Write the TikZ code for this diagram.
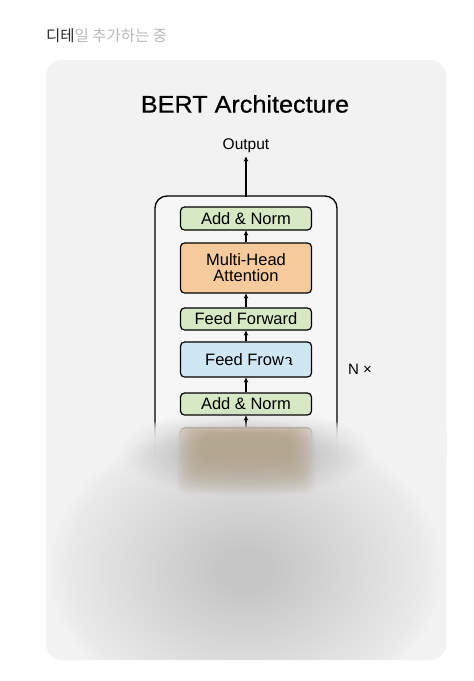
\documentclass[tikz,border=0pt]{standalone}
\usepackage{fontspec}
\setmainfont{Liberation Sans}
\newfontfamily\krfont{Noto Sans CJK KR}
\newfontfamily\titlefont[FakeBold=0.6,FakeStretch=1.05]{Liberation Sans}
\usetikzlibrary{arrows.meta}
\definecolor{cardbg}{RGB}{242,242,242}
\definecolor{hdrdark}{RGB}{40,40,40}
\definecolor{hdrlight}{RGB}{185,185,185}
\definecolor{gfill}{RGB}{214,232,196}
\definecolor{ofill}{RGB}{245,202,156}
\definecolor{bfill}{RGB}{207,230,243}
\definecolor{brownblur}{RGB}{180,160,130}
\definecolor{grayblur}{RGB}{150,150,150}
\tikzset{
  layer/.style={draw=black, line width=1.2pt, rounded corners=4pt, minimum width=131pt, align=center, inner sep=1pt, font=\fontsize{16.5}{17}\selectfont},
  arr/.style={-{Stealth[length=5pt,width=4.5pt]}, line width=1.2pt},
}
\begin{document}
\begin{tikzpicture}[x=1pt,y=-1pt]
\useasboundingbox (0,0) rectangle (474,681);
\fill[white] (0,0) rectangle (474,681);
\fill[cardbg, rounded corners=16pt] (46,60) rectangle (446,660);

\node[anchor=west, inner sep=0pt, font=\krfont\fontsize{15.5}{17}\selectfont] (hdr) at (46,36) {\textcolor{hdrdark}{디테}\textcolor{hdrlight}{일 추가하는 중}};

\node[font=\titlefont\fontsize{24}{26}\selectfont] (title) at (245,104) {BERT Architecture};
\node[font=\fontsize{15.5}{17}\selectfont] (out) at (246,146) {Output};

% outer block
\fill[cardbg!70!white, rounded corners=12pt] (155,460) -- (155,196) -- (337,196) -- (337,460) -- cycle;
\draw[line width=1.3pt, rounded corners=12pt] (155,460) -- (155,196) -- (337,196) -- (337,460);
\coordinate (boxtop) at (246,196.5);

\node[layer, fill=gfill, minimum height=23pt] (an1) at (246,218.5) {Add \& Norm};
\node[layer, fill=ofill, minimum height=50pt] (mha) at (246,268) {Multi-Head\\[-1pt]Attention};
\node[layer, fill=gfill, minimum height=22pt] (ff) at (246,319) {Feed Forward};
\node[layer, fill=bfill, minimum height=35pt] (ffb) at (246,359.5) {};
\node[font=\fontsize{16.5}{17}\selectfont, anchor=base west, inner sep=0pt] (fftxt) at (205,365.5) {Feed Frow};
\node[font=\fontsize{15}{17}\selectfont, anchor=base west, inner sep=0pt] (ffa) at (fftxt.base east) {a};
\fill[bfill] (ffa.south west) rectangle ([xshift=-3.6pt, yshift=-1.5pt]ffa.north east);
\fill[bfill] (ffa.south west) rectangle ([yshift=-5pt]ffa.south east);
\node[layer, fill=gfill, minimum height=22pt] (an2) at (246,404) {Add \& Norm};
\node[layer, fill=ofill, minimum height=50pt] (mha2) at (246,453) {};

\node[font=\fontsize{15}{17}\selectfont] (nx) at (360,369) {N ×};

\draw[arr] (boxtop) -- (out.south);
\draw[arr] (mha) -- (an1);
\draw[arr] (ff) -- (mha);
\draw[arr] (ffb) -- (ff);
\draw[arr] (an2) -- (ffb);
\draw[arr] (mha2) -- (an2);

% blurred lower part
\begin{scope}
\clip[rounded corners=16pt] (46,60) rectangle (446,660);
% soft fade of the sharp drawing
\foreach \i in {0,...,19}
  \fill[cardbg, opacity=0.22] (40,{422+1.2*\i}) rectangle (452,462);
\fill[cardbg] (40,461) rectangle (452,670);
% big gray cloud
\foreach \i in {0,...,39}
  \fill[grayblur, opacity=0.013] (246,570) ellipse ({195-4.3*\i} and {150-3.3*\i});
% dark halo around the box bottom
\foreach \i in {0,...,19}
  \fill[grayblur, opacity=0.018] (246,452) ellipse ({125-4*\i} and {44-1.7*\i});
% brown blurred block
\foreach \i in {0,...,15}
  \fill[brownblur, opacity=0.07, rounded corners=10pt] ({177+1.6*\i},{426+0.5*\i}) rectangle ({315-1.6*\i},{494-2.4*\i});
\end{scope}
\end{tikzpicture}
\end{document}
